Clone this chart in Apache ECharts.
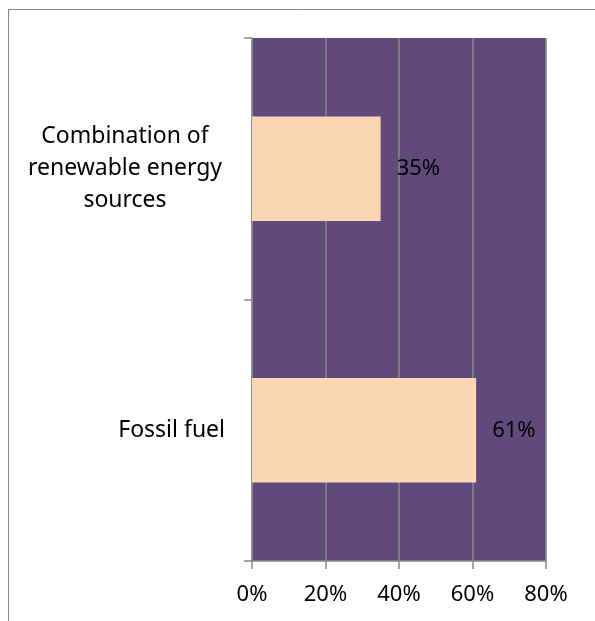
<!DOCTYPE html>
<html>
<head>
<meta charset="utf-8">
<script src="https://cdn.jsdelivr.net/npm/echarts@6/dist/echarts.min.js"></script>
<style>html,body{margin:0;padding:0;background:#fff;}#c{width:595px;height:621px;}</style>
</head>
<body>
<div id="c"></div>
<script>
var categories = ['Fossil fuel', 'Combination of\nrenewable energy\nsources'];
var values = [0.61, 0.35];
var axisMin = 0, axisMax = 0.8, axisStep = 0.2;

var FONT = 'Noto Sans';
var chart = echarts.init(document.getElementById('c'), null, {renderer: 'canvas'});
chart.setOption({
  backgroundColor: '#ffffff',
  animation: false,
  graphic: [{
    type: 'rect', shape: {x: 8.5, y: 9.5, width: 700, height: 700},
    style: {fill: 'none', stroke: '#868686', lineWidth: 1}, silent: true
  }],
  grid: {left: 252, right: 49, top: 38, bottom: 60, show: true, backgroundColor: '#604A7B', borderWidth: 0},
  xAxis: {
    type: 'value', min: axisMin, max: axisMax, interval: axisStep,
    axisLine: {show: true, lineStyle: {color: '#8a8a8a', width: 1.5}},
    axisTick: {show: true, length: 8, lineStyle: {color: '#8a8a8a', width: 1.5}},
    splitLine: {show: true, lineStyle: {color: '#8a8a8a', width: 1.5}},
    axisLabel: {fontFamily: FONT, fontSize: 22, color: '#000', margin: 23,
      formatter: function (v) { return Math.round(v * 100) + '%'; }}
  },
  yAxis: {
    type: 'category', data: categories,
    axisLine: {show: true, lineStyle: {color: '#8a8a8a', width: 1.5}},
    axisTick: {show: true, length: 8, lineStyle: {color: '#8a8a8a', width: 1.5}},
    axisLabel: {
      margin: 27, color: '#000', fontFamily: FONT, fontSize: 23,
      formatter: function (v) {
        if (v.indexOf('\n') < 0) return '{r|' + v + '}';
        return v.split('\n').map(function (s) { return '{c|' + s + '}'; }).join('\n');
      },
      rich: {
        r: {fontFamily: FONT, fontSize: 23, color: '#000'},
        c: {fontFamily: FONT, fontSize: 23, color: '#000', width: 200, align: 'center', lineHeight: 32}
      }
    }
  },
  series: [{
    type: 'bar', data: values, barWidth: '40%',
    itemStyle: {color: '#FCD5B5'},
    label: {show: true, position: 'right', distance: 16, fontFamily: FONT, fontSize: 22, color: '#000',
      formatter: function (p) { return Math.round(p.value * 100) + '%'; }}
  }]
});
</script>
</body>
</html>
